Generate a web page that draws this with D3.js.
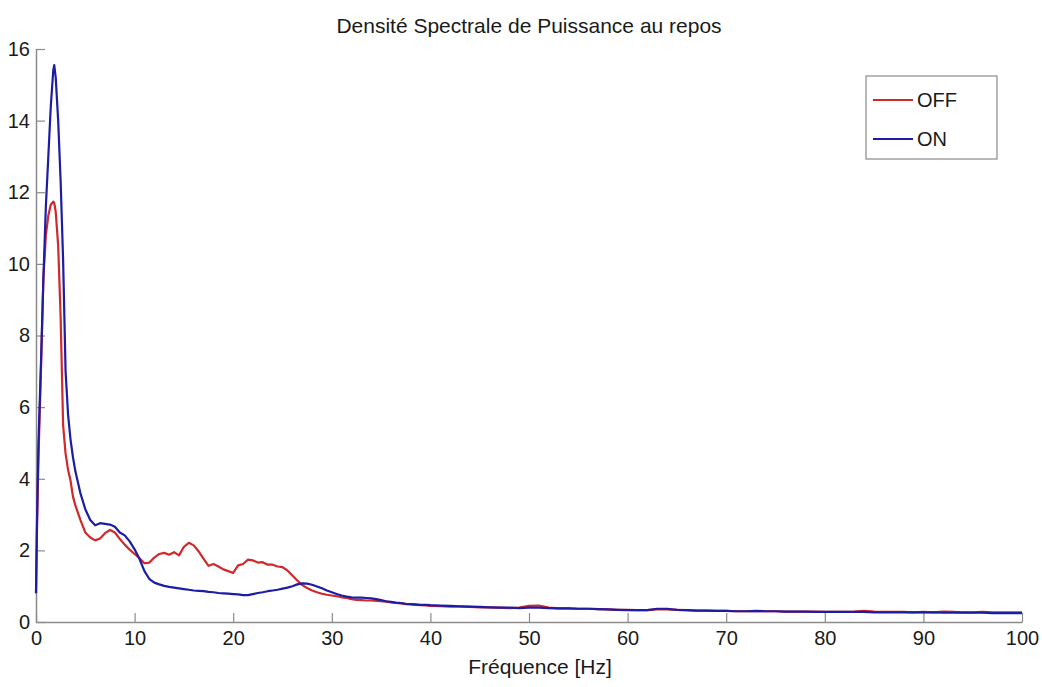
<!DOCTYPE html>
<html>
<head>
<meta charset="utf-8">
<script src="https://cdn.jsdelivr.net/npm/d3@7"></script>
<style>
  html, body { margin: 0; padding: 0; background: #fff; }
  svg { display: block; font-family: "Liberation Sans", Arial, Helvetica, sans-serif; }
</style>
</head>
<body>
<svg id="chart" width="1042" height="687"></svg>
<script>
// Frequency grid (Hz), shared by both spectra
const frequency = [
  0, 0.1, 0.25, 0.5, 0.75, 1, 1.25, 1.5, 1.75, 1.85, 2, 2.25, 2.5, 2.75, 3, 3.25, 3.5, 3.75,
  4, 4.5, 5, 5.5, 6, 6.5, 7, 7.5, 8, 8.5, 9, 9.5, 10, 10.5, 11, 11.5, 12, 12.5, 13, 13.5,
  14, 14.5, 15, 15.5, 16, 16.5, 17, 17.5, 18, 18.5, 19, 19.5, 20, 20.5, 21, 21.5, 22, 22.5,
  23, 23.5, 24, 24.5, 25, 25.5, 26, 26.5, 27, 27.5, 28, 28.5, 29, 29.5, 30, 30.5, 31, 31.5,
  32, 32.5, 33, 33.5, 34, 34.5, 35, 35.5, 36, 36.5, 37, 37.5, 38, 38.5, 39, 39.5, 40,
  41, 42, 43, 44, 45, 46, 47, 48, 49, 50, 51, 52, 53, 54, 55, 56, 57, 58, 59, 60,
  61, 62, 63, 64, 65, 66, 67, 68, 69, 70, 71, 72, 73, 74, 75, 76, 77, 78, 79, 80,
  81, 82, 83, 84, 85, 86, 87, 88, 89, 90, 91, 92, 93, 94, 95, 96, 97, 98, 99, 100
];

// Power spectral density, stimulation OFF
const psdOff = [
  0.8, 2.6, 4.6, 7.0, 9.6, 10.8, 11.35, 11.65, 11.74, 11.7, 11.45, 10.5, 8.5, 5.5, 4.7, 4.25, 3.95, 3.5,
  3.25, 2.85, 2.5, 2.36, 2.28, 2.33, 2.48, 2.57, 2.5, 2.32, 2.16, 2.02, 1.9, 1.78, 1.64, 1.66, 1.8, 1.9, 1.93, 1.88,
  1.95, 1.86, 2.1, 2.21, 2.14, 1.97, 1.76, 1.57, 1.62, 1.55, 1.47, 1.42, 1.37, 1.58, 1.62, 1.74, 1.72, 1.66,
  1.67, 1.6, 1.6, 1.55, 1.53, 1.44, 1.3, 1.16, 1.03, 0.95, 0.88, 0.83, 0.79, 0.76, 0.74, 0.72, 0.69, 0.67,
  0.64, 0.62, 0.61, 0.6, 0.6, 0.59, 0.58, 0.57, 0.55, 0.53, 0.52, 0.5, 0.49, 0.48, 0.47, 0.46, 0.45,
  0.44, 0.43, 0.43, 0.42, 0.41, 0.41, 0.40, 0.39, 0.40, 0.45, 0.46, 0.40, 0.38, 0.38, 0.37, 0.37, 0.36, 0.35, 0.34, 0.34,
  0.33, 0.33, 0.35, 0.35, 0.34, 0.33, 0.32, 0.32, 0.31, 0.31, 0.30, 0.30, 0.30, 0.30, 0.30, 0.29, 0.29, 0.29, 0.29, 0.28,
  0.28, 0.28, 0.29, 0.31, 0.29, 0.28, 0.28, 0.28, 0.27, 0.28, 0.27, 0.29, 0.28, 0.27, 0.27, 0.28, 0.27, 0.27, 0.27, 0.27
];

// Power spectral density, stimulation ON
const psdOn = [
  0.8, 2.8, 5.0, 7.2, 9.6, 11.6, 13.0, 14.4, 15.4, 15.55, 15.2, 14.0, 12.3, 10.1, 7.0, 5.8, 5.1, 4.6,
  4.2, 3.6, 3.15, 2.85, 2.7, 2.76, 2.74, 2.72, 2.66, 2.5, 2.42, 2.25, 2.03, 1.76, 1.42, 1.2, 1.1, 1.05, 1.01, 0.98,
  0.96, 0.94, 0.92, 0.9, 0.88, 0.87, 0.86, 0.84, 0.83, 0.81, 0.8, 0.79, 0.78, 0.77, 0.75, 0.75, 0.78, 0.81,
  0.83, 0.86, 0.88, 0.9, 0.93, 0.96, 1.0, 1.05, 1.08, 1.07, 1.04, 0.99, 0.94, 0.88, 0.83, 0.78, 0.74, 0.71,
  0.69, 0.68, 0.68, 0.67, 0.66, 0.64, 0.61, 0.58, 0.56, 0.54, 0.53, 0.51, 0.5, 0.49, 0.48, 0.48, 0.47,
  0.46, 0.45, 0.44, 0.43, 0.42, 0.41, 0.40, 0.40, 0.39, 0.40, 0.40, 0.39, 0.38, 0.38, 0.37, 0.37, 0.36, 0.35, 0.34, 0.33,
  0.33, 0.33, 0.37, 0.37, 0.34, 0.33, 0.32, 0.32, 0.31, 0.31, 0.30, 0.30, 0.31, 0.30, 0.30, 0.29, 0.29, 0.29, 0.28, 0.28,
  0.28, 0.28, 0.28, 0.28, 0.27, 0.27, 0.27, 0.27, 0.27, 0.27, 0.27, 0.26, 0.26, 0.26, 0.26, 0.26, 0.25, 0.25, 0.25, 0.25
];

const xTicks = [0, 10, 20, 30, 40, 50, 60, 70, 80, 90, 100];
const yTicks = [0, 2, 4, 6, 8, 10, 12, 14, 16];
const seriesNames = ["OFF", "ON"];
const seriesColors = ["#d0282b", "#1c1ca4"];

const svg = d3.select("#chart");
const plot = { left: 36, right: 1022, top: 49, bottom: 622 };

const x = d3.scaleLinear().domain([0, 100]).range([plot.left, plot.right]);
const y = d3.scaleLinear().domain([0, 16]).range([plot.bottom, plot.top]);

const axisColor = "#8a8a8a";
const textColor = "#1a1a1a";
const tickFont = 20;

// Bottom axis, ticks pointing into the plot
const gx = svg.append("g")
  .attr("transform", `translate(0,${plot.bottom})`)
  .call(d3.axisBottom(x).tickValues(xTicks).tickSizeInner(-9).tickSizeOuter(0).tickPadding(9));
// Left axis, ticks pointing into the plot
const gy = svg.append("g")
  .attr("transform", `translate(${plot.left},0)`)
  .call(d3.axisLeft(y).tickValues(yTicks).tickSizeInner(-9).tickSizeOuter(0).tickPadding(6));

[gx, gy].forEach(g => {
  g.select(".domain").attr("stroke", axisColor).attr("stroke-width", 1.5);
  g.selectAll(".tick line").attr("stroke", axisColor).attr("stroke-width", 1.2);
  g.selectAll(".tick text")
    .attr("fill", textColor)
    .style("font-size", tickFont + "px")
    .style("font-family", "'Liberation Sans', Arial, sans-serif");
});

// Spectral density curves
const series = [psdOff, psdOn];
const line = d3.line()
  .x((d, i) => x(frequency[i]))
  .y(d => y(d));

series.forEach((vals, k) => {
  svg.append("path")
    .datum(vals)
    .attr("fill", "none")
    .attr("stroke", seriesColors[k])
    .attr("stroke-width", 2.2)
    .attr("stroke-linejoin", "round")
    .attr("d", line);
});

// Title and axis label
svg.append("text")
  .attr("x", 529).attr("y", 33)
  .attr("text-anchor", "middle")
  .style("font-size", "21px")
  .attr("fill", textColor)
  .text("Densité Spectrale de Puissance au repos");

svg.append("text")
  .attr("x", 540).attr("y", 674)
  .attr("text-anchor", "middle")
  .style("font-size", "21px")
  .attr("fill", textColor)
  .text("Fréquence [Hz]");

// Legend
const legend = svg.append("g");
legend.append("rect")
  .attr("x", 866).attr("y", 76).attr("width", 131).attr("height", 83)
  .attr("fill", "#fff").attr("stroke", "#8a8a8a").attr("stroke-width", 1.2);
seriesNames.forEach((name, k) => {
  const ly = 100 + k * 39;
  legend.append("line")
    .attr("x1", 873).attr("x2", 913).attr("y1", ly).attr("y2", ly)
    .attr("stroke", seriesColors[k]).attr("stroke-width", 2);
  legend.append("text")
    .attr("x", 917).attr("y", ly + 7)
    .style("font-size", "20px")
    .attr("fill", textColor)
    .text(name);
});
</script>
</body>
</html>
